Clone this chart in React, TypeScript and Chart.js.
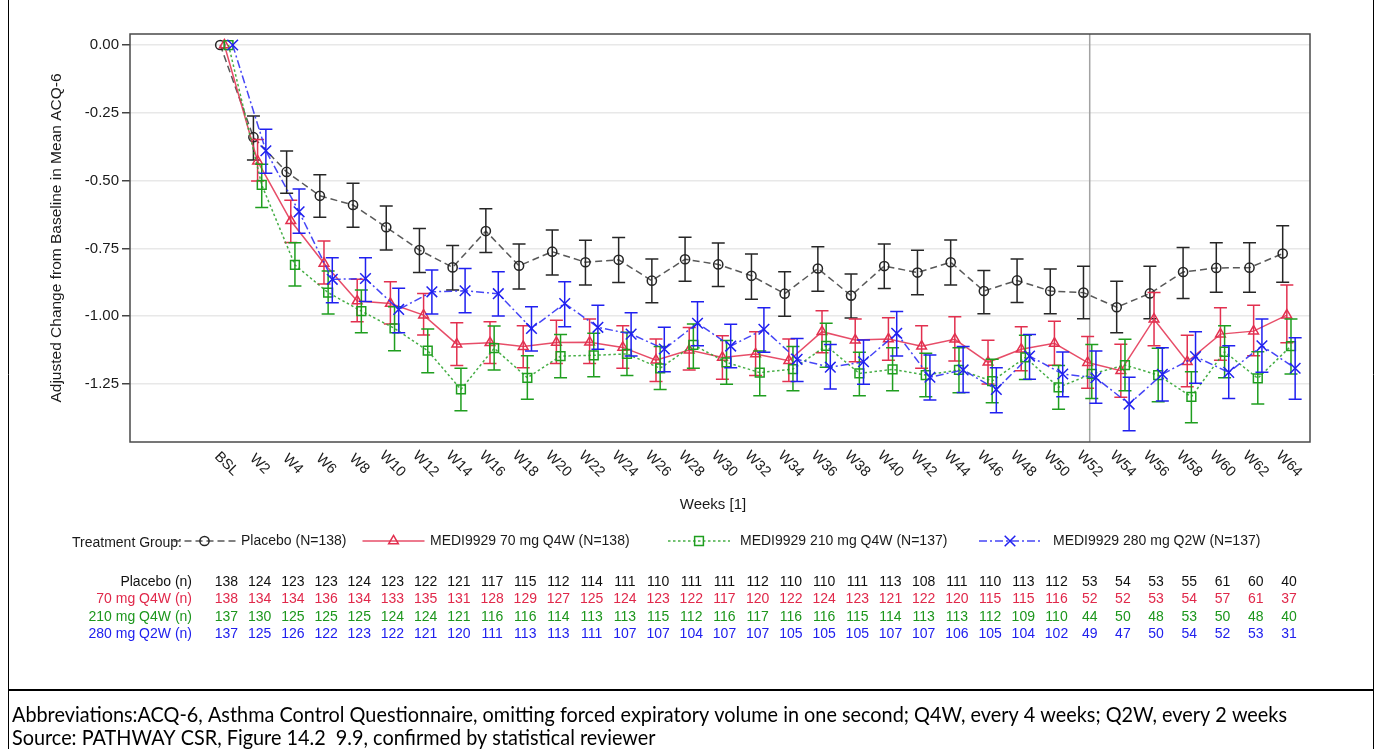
import React, { useEffect, useRef } from "react";
import { Chart, registerables } from "chart.js";

Chart.register(...registerables);

// ---------------- DATA ----------------
const categories = [
  "BSL", "W2", "W4", "W6", "W8", "W10", "W12", "W14", "W16", "W18", "W20",
  "W22", "W24", "W26", "W28", "W30", "W32", "W34", "W36", "W38", "W40",
  "W42", "W44", "W46", "W48", "W50", "W52", "W54", "W56", "W58", "W60", "W62", "W64",
];
const weekValues = [
  0, 2, 4, 6, 8, 10, 12, 14, 16, 18, 20, 22, 24, 26, 28, 30, 32, 34, 36, 38, 40,
  42, 44, 46, 48, 50, 52, 54, 56, 58, 60, 62, 64,
];
const yTickValues = [0, -0.25, -0.5, -0.75, -1.0, -1.25];
const referenceWeek = 52;

const seriesLabels = [
  "Placebo (N=138)",
  "MEDI9929 70 mg Q4W (N=138)",
  "MEDI9929 210 mg Q4W (N=137)",
  "MEDI9929 280 mg Q2W (N=137)",
];
const nRowLabels = ["Placebo (n)", "70 mg Q4W (n)", "210 mg Q4W (n)", "280 mg Q2W (n)"];

const placeboMean = [
  0, -0.34, -0.468, -0.556, -0.59, -0.672, -0.756, -0.82, -0.686, -0.814, -0.762,
  -0.801, -0.792, -0.869, -0.79, -0.809, -0.851, -0.917, -0.824, -0.924, -0.815,
  -0.839, -0.801, -0.907, -0.868, -0.907, -0.913, -0.967, -0.916, -0.837, -0.822, -0.821, -0.769,
];
const placeboUpper = [
  null, -0.262, -0.391, -0.478, -0.51, -0.594, -0.677, -0.739, -0.604, -0.734, -0.682,
  -0.72, -0.71, -0.789, -0.709, -0.73, -0.771, -0.836, -0.744, -0.844, -0.734,
  -0.757, -0.719, -0.831, -0.789, -0.826, -0.816, -0.871, -0.816, -0.747, -0.729, -0.729, -0.666,
];
const placeboLower = [
  null, -0.424, -0.547, -0.635, -0.672, -0.756, -0.839, -0.903, -0.765, -0.9, -0.848,
  -0.885, -0.876, -0.95, -0.871, -0.89, -0.937, -1.0, -0.908, -1.007, -0.898,
  -0.921, -0.885, -0.991, -0.949, -0.991, -1.009, -1.061, -1.009, -0.935, -0.912, -0.912, -0.875,
];

const q4w70Mean = [
  0, -0.428, -0.648, -0.805, -0.944, -0.953, -0.996, -1.103, -1.098, -1.112, -1.097,
  -1.096, -1.115, -1.162, -1.125, -1.152, -1.139, -1.164, -1.057, -1.088, -1.084,
  -1.111, -1.085, -1.17, -1.122, -1.1, -1.171, -1.201, -1.011, -1.168, -1.066, -1.055, -0.996,
];
const q4w70Upper = [
  null, -0.348, -0.572, -0.723, -0.864, -0.873, -0.916, -1.024, -1.02, -1.035, -1.015,
  -1.01, -1.035, -1.084, -1.042, -1.072, -1.057, -1.084, -0.98, -1.01, -1.006,
  -1.035, -1.002, -1.089, -1.039, -1.019, -1.075, -1.103, -0.913, -1.07, -0.969, -0.96, -0.885,
];
const q4w70Lower = [
  null, -0.501, -0.728, -0.881, -1.02, -1.029, -1.069, -1.182, -1.174, -1.19, -1.174,
  -1.174, -1.192, -1.241, -1.198, -1.232, -1.219, -1.241, -1.135, -1.168, -1.162,
  -1.192, -1.165, -1.25, -1.201, -1.181, -1.266, -1.299, -1.109, -1.26, -1.162, -1.146, -1.098,
];

const q4w210Mean = [
  0, -0.516, -0.811, -0.913, -0.981, -1.045, -1.127, -1.27, -1.118, -1.227, -1.147,
  -1.144, -1.139, -1.192, -1.106, -1.17, -1.208, -1.195, -1.109, -1.211, -1.196,
  -1.217, -1.198, -1.239, -1.152, -1.262, -1.213, -1.18, -1.217, -1.297, -1.131, -1.229, -1.11,
];
const q4w210Upper = [
  null, -0.44, -0.729, -0.833, -0.903, -0.965, -1.047, -1.192, -1.036, -1.146, -1.067,
  -1.063, -1.059, -1.112, -1.029, -1.09, -1.128, -1.112, -1.026, -1.133, -1.116,
  -1.137, -1.116, -1.159, -1.07, -1.182, -1.104, -1.085, -1.118, -1.205, -1.035, -1.131, -1.01,
];
const q4w210Lower = [
  null, -0.599, -0.889, -0.992, -1.061, -1.127, -1.208, -1.349, -1.198, -1.306, -1.227,
  -1.223, -1.219, -1.27, -1.192, -1.251, -1.293, -1.275, -1.188, -1.293, -1.275,
  -1.297, -1.282, -1.319, -1.233, -1.343, -1.303, -1.275, -1.315, -1.393, -1.227, -1.324, -1.213,
];

const q2w280Mean = [
  0, -0.39, -0.615, -0.864, -0.861, -0.975, -0.91, -0.906, -0.917, -1.045, -0.953,
  -1.041, -1.066, -1.121, -1.026, -1.11, -1.048, -1.159, -1.188, -1.168, -1.063,
  -1.225, -1.198, -1.27, -1.147, -1.213, -1.227, -1.324, -1.214, -1.149, -1.207, -1.109, -1.192,
];
const q2w280Upper = [
  null, -0.311, -0.531, -0.784, -0.784, -0.897, -0.83, -0.824, -0.836, -0.965, -0.873,
  -0.96, -0.987, -1.041, -0.947, -1.03, -0.969, -1.082, -1.104, -1.088, -0.983,
  -1.143, -1.112, -1.19, -1.067, -1.132, -1.128, -1.225, -1.116, -1.057, -1.109, -1.01, -1.079,
];
const q2w280Lower = [
  null, -0.473, -0.694, -0.95, -0.946, -1.061, -0.992, -0.987, -0.999, -1.128, -1.039,
  -1.122, -1.147, -1.205, -1.109, -1.19, -1.133, -1.241, -1.268, -1.251, -1.147,
  -1.309, -1.281, -1.356, -1.232, -1.297, -1.321, -1.422, -1.313, -1.247, -1.303, -1.207, -1.306,
];

const nPlacebo = [
  138, 124, 123, 123, 124, 123, 122, 121, 117, 115, 112, 114, 111, 110, 111, 111, 112,
  110, 110, 111, 113, 108, 111, 110, 113, 112, 53, 54, 53, 55, 61, 60, 40,
];
const nQ4w70 = [
  138, 134, 134, 136, 134, 133, 135, 131, 128, 129, 127, 125, 124, 123, 122, 117, 120,
  122, 124, 123, 121, 122, 120, 115, 115, 116, 52, 52, 53, 54, 57, 61, 37,
];
const nQ4w210 = [
  137, 130, 125, 125, 125, 124, 124, 121, 116, 116, 114, 113, 113, 115, 112, 116, 117,
  116, 116, 115, 114, 113, 113, 112, 109, 110, 44, 50, 48, 53, 50, 48, 40,
];
const nQ2w280 = [
  137, 125, 126, 122, 123, 122, 121, 120, 111, 113, 113, 111, 107, 107, 104, 107, 107,
  105, 105, 105, 107, 107, 106, 105, 104, 102, 49, 47, 50, 54, 52, 53, 31,
];

const footerLine1 =
  "Abbreviations:ACQ-6, Asthma Control Questionnaire, omitting forced expiratory volume in one second; Q4W, every 4 weeks; Q2W, every 2 weeks";
const footerLine2 = "Source: PATHWAY CSR, Figure 14.2  9.9, confirmed by statistical reviewer";

// ---------------- STYLE ----------------
const FONT = "'Liberation Sans', Arial, sans-serif";
const STYLES = [
  { line: "rgba(70,70,70,0.9)", mark: "#262626", text: "#111111", dash: [7, 4], point: "circle", radius: 4.6 },
  { line: "rgba(228,58,88,0.9)", mark: "#e2304f", text: "#e0284a", dash: [], point: "triangle", radius: 5.6 },
  { line: "rgba(50,165,50,0.9)", mark: "#1f9e1f", text: "#1c961c", dash: [2.5, 2.5], point: "rect", radius: 6.2 },
  { line: "rgba(50,50,245,0.9)", mark: "#2020f0", text: "#2020ee", dash: [8, 3, 2, 3], point: "crossRot", radius: 7.5 },
];
const CLUSTER_OFFSETS = [-0.375, -0.125, 0.125, 0.375];

const means = [placeboMean, q4w70Mean, q4w210Mean, q2w280Mean];
const uppers = [placeboUpper, q4w70Upper, q4w210Upper, q2w280Upper];
const lowers = [placeboLower, q4w70Lower, q4w210Lower, q2w280Lower];
const nRows = [nPlacebo, nQ4w70, nQ4w210, nQ2w280];

function drawMarker(ctx: CanvasRenderingContext2D, style: string, x: number, y: number, r: number) {
  ctx.beginPath();
  if (style === "circle") {
    ctx.arc(x, y, r, 0, Math.PI * 2);
  } else if (style === "triangle") {
    const h = r * 1.5;
    const w = r * Math.sqrt(3) / 2;
    ctx.moveTo(x, y - r);
    ctx.lineTo(x + w, y + h - r);
    ctx.lineTo(x - w, y + h - r);
    ctx.closePath();
  } else if (style === "rect") {
    const s = r * Math.SQRT1_2;
    ctx.rect(x - s, y - s, 2 * s, 2 * s);
  } else {
    const s = r * Math.SQRT1_2;
    ctx.moveTo(x - s, y - s);
    ctx.lineTo(x + s, y + s);
    ctx.moveTo(x + s, y - s);
    ctx.lineTo(x - s, y + s);
  }
  ctx.stroke();
}

const overlayPlugin = {
  id: "overlay",
  beforeDatasetsDraw(chart: any) {
    const { ctx, chartArea: a, scales } = chart;
    const px = scales.x.getPixelForValue(referenceWeek);
    ctx.save();
    ctx.strokeStyle = "#a3a3a3";
    ctx.lineWidth = 1.5;
    ctx.beginPath();
    ctx.moveTo(px, a.top);
    ctx.lineTo(px, a.bottom);
    ctx.stroke();
    ctx.restore();
  },
  afterDatasetDraw(chart: any, args: any) {
    const i = args.index;
    const { ctx, scales } = chart;
    ctx.save();
    ctx.strokeStyle = STYLES[i].mark;
    ctx.lineWidth = 1.5;
    for (let k = 0; k < weekValues.length; k++) {
      const hi = uppers[i][k];
      const lo = lowers[i][k];
      if (hi === null || lo === null) continue;
      const x = scales.x.getPixelForValue(weekValues[k] + CLUSTER_OFFSETS[i]);
      const yh = scales.y.getPixelForValue(hi as number);
      const yl = scales.y.getPixelForValue(lo as number);
      ctx.beginPath();
      ctx.moveTo(x, yh);
      ctx.lineTo(x, yl);
      ctx.moveTo(x - 6.5, yh);
      ctx.lineTo(x + 6.5, yh);
      ctx.moveTo(x - 6.5, yl);
      ctx.lineTo(x + 6.5, yl);
      ctx.stroke();
    }
    ctx.restore();
  },
  afterDraw(chart: any) {
    const { ctx, chartArea: a, scales } = chart;
    ctx.save();
    // plot frame
    ctx.strokeStyle = "#4a4a4a";
    ctx.lineWidth = 1.5;
    ctx.strokeRect(a.left, a.top, a.right - a.left, a.bottom - a.top);

    // x tick labels (rotated)
    ctx.fillStyle = "#1a1a1a";
    ctx.font = `14.5px ${FONT}`;
    ctx.textAlign = "center";
    ctx.textBaseline = "middle";
    categories.forEach((c, k) => {
      const x = scales.x.getPixelForValue(weekValues[k]);
      ctx.save();
      ctx.translate(x, 464);
      ctx.rotate(Math.PI / 4);
      ctx.fillText(c, 0, 0);
      ctx.restore();
    });

    // x title
    ctx.font = `15px ${FONT}`;
    ctx.fillText("Weeks [1]", 713, 505);

    // y title
    ctx.save();
    ctx.translate(57, (a.top + a.bottom) / 2);
    ctx.rotate(-Math.PI / 2);
    ctx.font = `15.5px ${FONT}`;
    ctx.fillText("Adjusted Change from Baseline in Mean ACQ-6", 0, 0);
    ctx.restore();

    // legend
    const legY = 541;
    ctx.font = `14px ${FONT}`;
    ctx.textAlign = "left";
    ctx.fillStyle = "#1a1a1a";
    ctx.fillText("Treatment Group:", 72, legY + 2);
    const symCenters = [204.5, 393.5, 699, 1010];
    const textStarts = [241, 430, 740, 1053];
    STYLES.forEach((s, i) => {
      ctx.save();
      ctx.strokeStyle = s.line;
      ctx.lineWidth = 1.5;
      ctx.setLineDash(s.dash);
      ctx.beginPath();
      ctx.moveTo(symCenters[i] - 31, legY);
      ctx.lineTo(symCenters[i] + 31, legY);
      ctx.stroke();
      ctx.setLineDash([]);
      ctx.strokeStyle = s.mark;
      drawMarker(ctx, s.point, symCenters[i], legY, s.radius);
      ctx.restore();
      ctx.fillStyle = "#1a1a1a";
      ctx.fillText(seriesLabels[i], textStarts[i], legY);
    });

    // n table
    const rowYs = [582, 599.5, 617, 634.5];
    ctx.font = `14px ${FONT}`;
    nRows.forEach((row, i) => {
      ctx.fillStyle = STYLES[i].text;
      ctx.textAlign = "right";
      ctx.fillText(nRowLabels[i], 192, rowYs[i]);
      ctx.textAlign = "center";
      row.forEach((v, k) => {
        const x = scales.x.getPixelForValue(weekValues[k]);
        ctx.fillText(String(v), x, rowYs[i]);
      });
    });

    // outer borders
    ctx.strokeStyle = "#000";
    ctx.lineWidth = 1;
    ctx.beginPath();
    ctx.moveTo(8.5, 0);
    ctx.lineTo(8.5, 749);
    ctx.moveTo(1373.5, 0);
    ctx.lineTo(1373.5, 749);
    ctx.stroke();
    ctx.lineWidth = 2;
    ctx.beginPath();
    ctx.moveTo(8, 690);
    ctx.lineTo(1374, 690);
    ctx.stroke();

    // footer
    ctx.fillStyle = "#000";
    ctx.textAlign = "left";
    ctx.textBaseline = "alphabetic";
    ctx.font = `21.5px Lato, 'Open Sans', sans-serif`;
    const w1 = ctx.measureText(footerLine1).width;
    const sc = Math.min(1, 1275 / w1);
    ctx.save();
    ctx.translate(12, 0);
    ctx.scale(sc, 1);
    ctx.fillText(footerLine1, 0, 722);
    ctx.fillText(footerLine2, 0, 745);
    ctx.restore();

    ctx.restore();
  },
};

export default function App() {
  const ref = useRef<HTMLCanvasElement>(null);
  useEffect(() => {
    if (!ref.current) return;
    const datasets = STYLES.map((s, i) => ({
      label: seriesLabels[i],
      data: weekValues.map((w, k) => ({ x: w + CLUSTER_OFFSETS[i], y: means[i][k] })),
      borderColor: s.line,
      borderWidth: 1.5,
      borderDash: s.dash,
      pointStyle: s.point,
      pointRadius: s.radius,
      pointBorderColor: s.mark,
      pointBackgroundColor: "rgba(0,0,0,0)",
      pointBorderWidth: 1.5,
      tension: 0,
      fill: false,
      order: 4 - i,
    }));
    const chart = new Chart(ref.current, {
      type: "line",
      data: { datasets } as any,
      options: {
        responsive: false,
        animation: false,
        devicePixelRatio: 1,
        events: [],
        layout: { padding: { top: 34, right: 70, left: 0, bottom: 0 } },
        plugins: { legend: { display: false }, tooltip: { enabled: false } },
        scales: {
          x: {
            type: "linear",
            min: -5.81,
            max: 65.27,
            ticks: { display: false },
            grid: { display: false },
            border: { display: false },
            afterFit: (s: any) => {
              s.height = 307;
            },
          },
          y: {
            type: "linear",
            min: -1.4638,
            max: 0.0406,
            afterBuildTicks: (s: any) => {
              s.ticks = yTickValues.map((v) => ({ value: v }));
            },
            ticks: {
              callback: (v: any) => Number(v).toFixed(2),
              font: { family: FONT, size: 15 },
              color: "#1a1a1a",
              padding: 3,
            },
            grid: { color: "#e8e8e8", lineWidth: 1.5, tickColor: "#444", tickLength: 8 },
            border: { display: false },
            afterFit: (s: any) => {
              s.width = 130;
            },
          },
        },
      } as any,
      plugins: [overlayPlugin],
    });
    return () => chart.destroy();
  }, []);
  return (
    <div style={{ position: "absolute", left: 0, top: 0, width: 1380, height: 749, background: "#fff" }}>
      <canvas ref={ref} width={1380} height={749} style={{ display: "block", width: 1380, height: 749 }} />
    </div>
  );
}
